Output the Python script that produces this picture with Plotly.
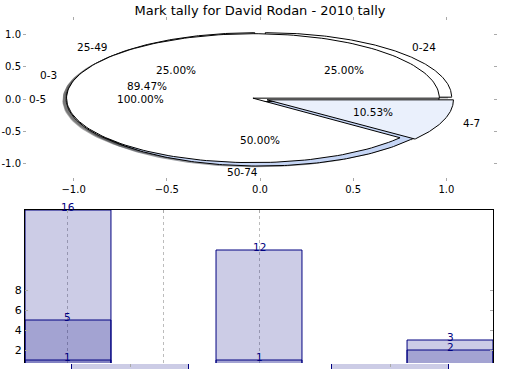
import numpy as np
import plotly.graph_objects as go

W, H = 520, 390
title_text = "Mark tally for David Rodan - 2010 tally"

# ---- pie data (three pies overlaid on one axes) ----
pie_a_labels = ["0-24", "25-49", "50-74"]
pie_a_values = [1, 1, 2]
pie_a_colors = ["#ffffff", "#ffffff", "#c5d5f5"]

pie_b_labels = ["0-3", "4-7"]
pie_b_values = [17, 2]
pie_b_colors = ["#ffffff", "#eaf0fc"]

pie_c_labels = ["0-5"]
pie_c_values = [19]
pie_c_colors = ["#ffffff"]

pie_ticks = [-1.0, -0.5, 0.0, 0.5, 1.0]
pie_xtick_text = ["\u22121.0", "\u22120.5", "0.0", "0.5", "1.0"]
pie_ytick_text = ["-1.0", "-0.5", "0.0", "0.5", "1.0"]

# ---- bar data ----
bar_x = [0, 2, 4]
bar_s1 = [16, 12, 3]
bar_s2 = [5, 1, 2]
bar_s3 = [1, None, None]
bar_yticks = [2, 4, 6, 8]
bar_grid = [0, 1, 2]

# ---- strip of a third (cut off) bar axes ----
strip_x = [0, 1]
strip_vals = [1, 1]

EXPLODE = 0.04
NAVY = "#000080"
BAR_FILL = "rgba(0,0,128,0.2)"


def dom_y(top_px, bot_px):
    return [1 - bot_px / H, 1 - top_px / H]


fig = go.Figure()


def pie_geometry(values):
    vals = np.asarray(values, dtype=float)
    fr = vals / vals.sum()
    edges = np.concatenate([[0.0], np.cumsum(fr)]) * 360.0
    out = []
    for i in range(len(vals)):
        t1, t2 = edges[i], edges[i + 1]
        mid = np.radians((t1 + t2) / 2)
        cx, cy = EXPLODE * np.cos(mid), EXPLODE * np.sin(mid)
        th = np.radians(np.linspace(t1, t2, 180))
        xs = cx + np.cos(th)
        ys = cy + np.sin(th)
        if abs((t2 - t1) - 360) > 1e-9:
            xs = np.concatenate([[cx], xs, [cx]])
            ys = np.concatenate([[cy], ys, [cy]])
        out.append((xs, ys, cx, cy, mid, fr[i]))
    return out


pies = [
    (pie_c_labels, pie_c_values, pie_c_colors),
    (pie_a_labels, pie_a_values, pie_a_colors),
    (pie_b_labels, pie_b_values, pie_b_colors),
]

# shadows (below all wedges)
for labels, values, colors in pies:
    for (xs, ys, cx, cy, mid, f), col in zip(pie_geometry(values), colors):
        c = col.lstrip("#")
        rgb = [int(int(c[k:k + 2], 16) * 0.3) for k in (0, 2, 4)]
        fig.add_trace(go.Scatter(
            x=xs - 0.02, y=ys - 0.02, mode="lines", fill="toself",
            fillcolor=f"rgba({rgb[0]},{rgb[1]},{rgb[2]},0.5)",
            line=dict(width=0), hoverinfo="skip", showlegend=False,
            xaxis="x", yaxis="y"))

annotations = []
for labels, values, colors in pies:
    for (xs, ys, cx, cy, mid, f), col, lab in zip(pie_geometry(values), colors, labels):
        fig.add_trace(go.Scatter(
            x=xs, y=ys, mode="lines", fill="toself", fillcolor=col,
            line=dict(color="black", width=1), hoverinfo="skip",
            showlegend=False, xaxis="x", yaxis="y"))
        lx = cx + 1.1 * np.cos(mid)
        ly = cy + 1.1 * np.sin(mid)
        annotations.append(dict(
            x=lx, y=ly, xref="x", yref="y", text=lab, showarrow=False,
            xanchor="left" if lx > 0 else "right", yanchor="middle",
            font=dict(size=10.5, color="black")))
        annotations.append(dict(
            x=cx + 0.6 * np.cos(mid), y=cy + 0.6 * np.sin(mid),
            xref="x", yref="y", text=f"{f * 100:.2f}%", showarrow=False,
            xanchor="center", yanchor="middle",
            font=dict(size=10.5, color="black")))

# bars (overlaid)
for series in (bar_s1, bar_s2, bar_s3):
    xs = [x for x, v in zip(bar_x, series) if v is not None]
    vs = [v for v in series if v is not None]
    fig.add_trace(go.Bar(
        x=xs, y=vs, width=0.9,
        marker=dict(color=BAR_FILL, line=dict(color=NAVY, width=1)),
        showlegend=False, hoverinfo="skip", xaxis="x2", yaxis="y2"))
    for x, v in zip(xs, vs):
        annotations.append(dict(
            x=x, y=v, xref="x2", yref="y2", text=str(v), showarrow=False,
            xanchor="center", yanchor="bottom", yshift=-5,
            font=dict(size=10.5, color=NAVY)))

# strip bars
fig.add_trace(go.Bar(
    x=strip_x, y=strip_vals, width=0.45,
    marker=dict(color=BAR_FILL, line=dict(color=NAVY, width=1)),
    showlegend=False, hoverinfo="skip", xaxis="x3", yaxis="y3"))

tickfont = dict(size=10, color="black")

fig.update_layout(
    width=W, height=H, autosize=False,
    margin=dict(l=0, r=0, t=0, b=0, autoexpand=False),
    paper_bgcolor="white", plot_bgcolor="white",
    font=dict(family="DejaVu Sans", color="black"),
    barmode="overlay",
    title=dict(text=title_text, x=0.5, xanchor="center", y=1 - 10 / H,
               yanchor="middle", font=dict(size=13, color="black")),
    annotations=annotations,
    xaxis=dict(domain=[27 / W, 493 / W], range=[-1.25, 1.25],
               tickvals=pie_ticks, ticktext=pie_xtick_text, ticks="outside",
               ticklen=3, tickcolor="#aaaaaa", mirror="ticks", showline=False,
               showgrid=False, zeroline=False, tickfont=tickfont, anchor="y",
               automargin=False),
    yaxis=dict(domain=dom_y(21, 177), range=[-1.21, 1.21],
               tickvals=pie_ticks, ticktext=pie_ytick_text, ticks="outside",
               ticklen=3, tickcolor="#aaaaaa", mirror="ticks", showline=False,
               showgrid=False, zeroline=False, tickfont=tickfont, anchor="x",
               automargin=False),
    xaxis2=dict(domain=[25 / W, 493 / W], range=[-0.45, 4.45],
                tickvals=bar_grid, showticklabels=False, ticks="inside",
                ticklen=3, tickcolor="#aaaaaa", side="top", showline=True,
                linecolor="black", linewidth=1, showgrid=True,
                gridcolor="#bcbcbc", griddash="dot", gridwidth=1,
                zeroline=False, anchor="y2", automargin=False),
    yaxis2=dict(domain=dom_y(210, 363), range=[0.7, 16],
                tickvals=bar_yticks, ticks="inside", ticklen=3,
                tickcolor="#aaaaaa", showline=True, linecolor="black",
                linewidth=1, mirror="ticks", showgrid=False, zeroline=False,
                tickfont=dict(size=11, color="black"), anchor="x2",
                automargin=False),
    xaxis3=dict(domain=[0, 1], range=[-0.5, 1.5], tickvals=strip_x,
                showticklabels=False, ticks="inside", ticklen=3,
                tickcolor="#aaaaaa", side="top", showline=False,
                showgrid=False, zeroline=False, anchor="y3", automargin=False),
    yaxis3=dict(domain=dom_y(364, 369), range=[0.2, 0.8], showticklabels=False,
                ticks="", showgrid=False, zeroline=False, showline=False,
                anchor="x3", automargin=False),
)

fig.write_html("out.html", config={"displayModeBar": False},
               post_script="document.body.style.margin='0';document.body.style.padding='0';")
